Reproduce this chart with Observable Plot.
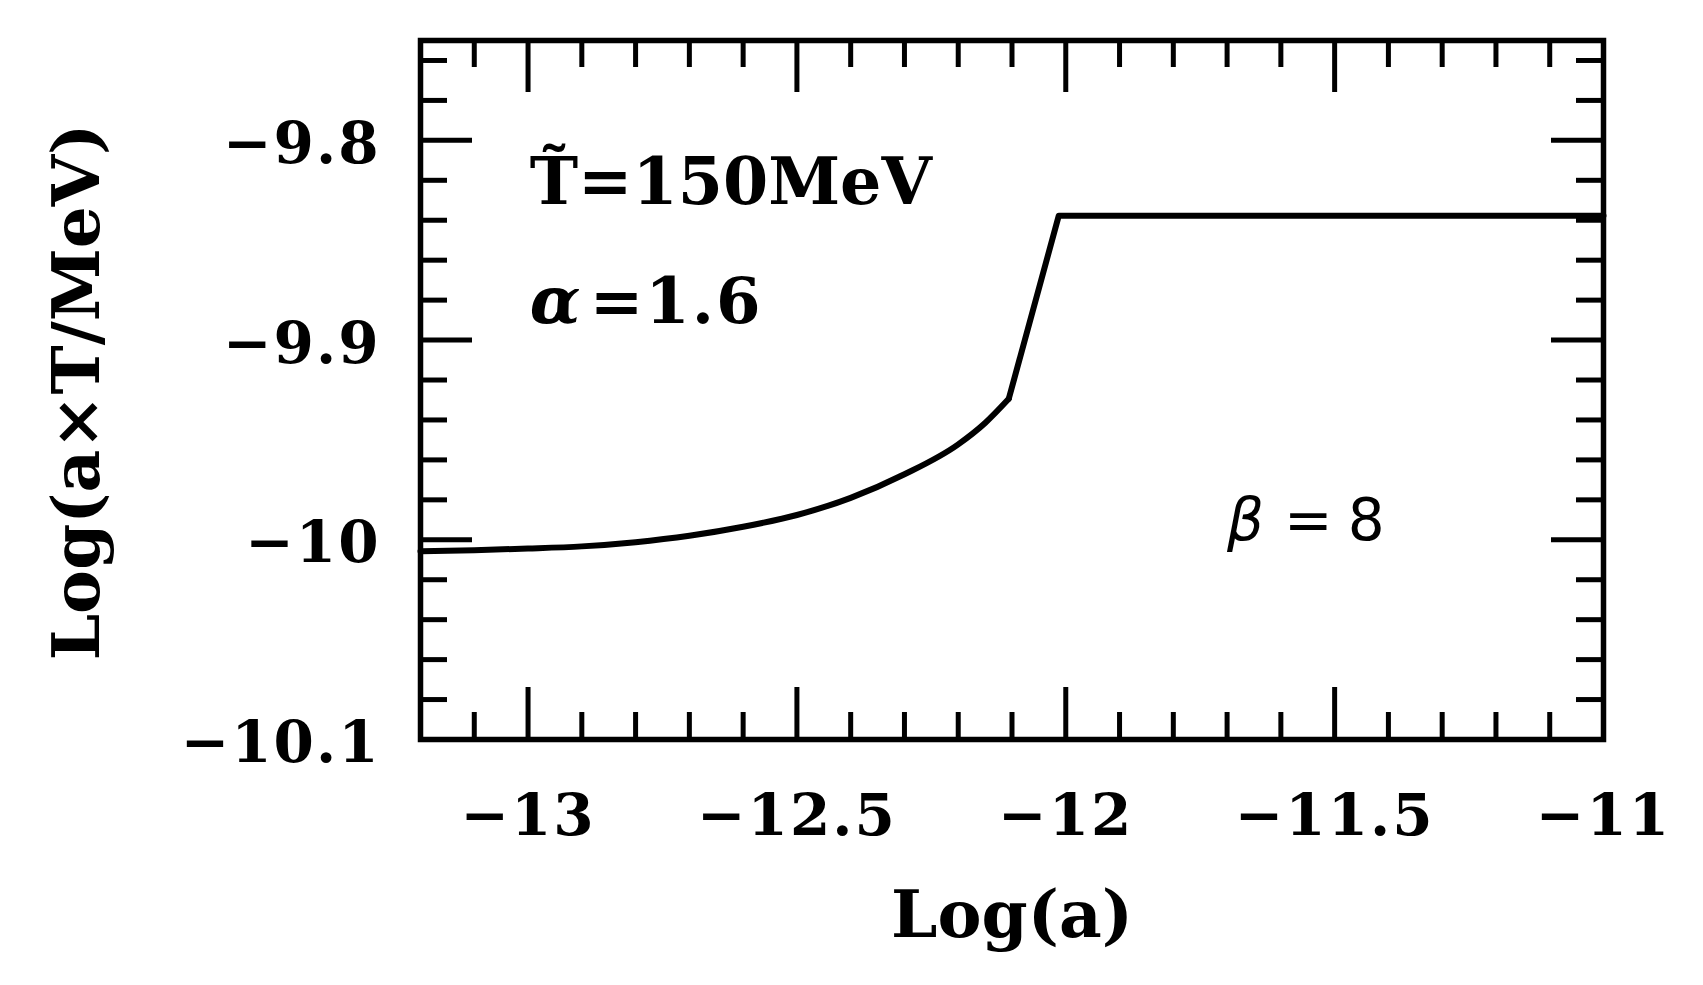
<!DOCTYPE html>
<html>
<head>
<meta charset="utf-8">
<script src="https://cdn.jsdelivr.net/npm/d3@7"></script>
<script src="https://cdn.jsdelivr.net/npm/@observablehq/plot@0.6"></script>
<style>
  html, body { margin: 0; padding: 0; background: white; }
</style>
</head>
<body>
<div id="chart"></div>
<script>
// ---- data ----
const logA = [-13.2, -13.1, -13.0, -12.9, -12.8, -12.7, -12.6, -12.5, -12.4, -12.3, -12.2, -12.15, -12.106, -12.013, -11.0];
const logAT = [-10.0057, -10.0052, -10.0044, -10.0033, -10.0012, -9.9980, -9.9935, -9.9876, -9.9790, -9.9672, -9.9522, -9.9415, -9.9294, -9.8377, -9.8377];
const kinkIndex = 12; // smooth part ends here, straight segments after

const xTickValues = [-13, -12.5, -12, -11.5, -11];
const xTickLabels = ["−13", "−12.5", "−12", "−11.5", "−11"];
const yTickValues = [-10.1, -10, -9.9, -9.8];
const yTickLabels = ["−10.1", "−10", "−9.9", "−9.8"];

const xMajorInner = [-13, -12.5, -12, -11.5];
const xMinor = [-13.1, -12.9, -12.8, -12.7, -12.6, -12.4, -12.3, -12.2, -12.1, -11.9, -11.8, -11.7, -11.6, -11.4, -11.3, -11.2, -11.1];
const yMajorInner = [-10, -9.9, -9.8];
const yMinor = [-10.08, -10.06, -10.04, -10.02, -9.98, -9.96, -9.94, -9.92, -9.88, -9.86, -9.84, -9.82, -9.78, -9.76];

const xLabel = "Log(a)";
const yLabel = "Log(a×T/MeV)";

const noteMain = [{x: -12.997, y: -9.8317, text: "T\u0303=150MeV"}];
const noteSymbols = [
  {x: -12.997, y: -9.8915, text: "α", font: "DejaVu Serif", size: 66, weight: "bold"},
  {x: -11.70, y: -10.0002, text: "β", font: "DejaVu Sans", size: 58, weight: "normal"}
];
const noteValues = [
  {x: -12.997, y: -9.8915, text: "=1.6", font: "DejaVu Serif", size: 64, weight: "bold", dx: 60, spacing: "2px"},
  {x: -11.70, y: -10.0002, text: "=8", font: "DejaVu Sans", size: 58, weight: "normal", dx: 57, spacing: "15px"}
];

// ---- layout ----
const W = 1703, H = 985;
const mL = 420, mR = 100, mT = 40, mB = 246;
const plotW = W - mL - mR, plotH = H - mT - mB;
const majorLen = 52, minorLen = 27, tickW = 5;

const pts = logA.map((x, i) => ({x, y: logAT[i]}));
const smoothPart = pts.slice(0, kinkIndex + 1);
const straightPart = pts.slice(kinkIndex);

const chart = Plot.plot({
  width: W,
  height: H,
  marginLeft: mL,
  marginRight: mR,
  marginTop: mT,
  marginBottom: mB,
  x: {domain: [-13.2, -11]},
  y: {domain: [-10.1, -9.75]},
  style: {background: "white", color: "black", fontFamily: "DejaVu Serif"},
  marks: [
    // inward ticks, bottom & top
    Plot.tickX(xMajorInner, {x: d => d, insetTop: plotH - majorLen, stroke: "black", strokeWidth: tickW}),
    Plot.tickX(xMajorInner, {x: d => d, insetBottom: plotH - majorLen, stroke: "black", strokeWidth: tickW}),
    Plot.tickX(xMinor, {x: d => d, insetTop: plotH - minorLen, stroke: "black", strokeWidth: tickW}),
    Plot.tickX(xMinor, {x: d => d, insetBottom: plotH - minorLen, stroke: "black", strokeWidth: tickW}),
    // inward ticks, left & right
    Plot.tickY(yMajorInner, {y: d => d, insetRight: plotW - majorLen, stroke: "black", strokeWidth: tickW}),
    Plot.tickY(yMajorInner, {y: d => d, insetLeft: plotW - majorLen, stroke: "black", strokeWidth: tickW}),
    Plot.tickY(yMinor, {y: d => d, insetRight: plotW - minorLen, stroke: "black", strokeWidth: tickW}),
    Plot.tickY(yMinor, {y: d => d, insetLeft: plotW - minorLen, stroke: "black", strokeWidth: tickW}),
    // curve
    Plot.line(smoothPart, {x: "x", y: "y", stroke: "black", strokeWidth: 6, curve: "monotone-x"}),
    Plot.line(straightPart, {x: "x", y: "y", stroke: "black", strokeWidth: 6, strokeLinejoin: "round"}),
    Plot.frame({stroke: "black", strokeWidth: 5.5}),
    // axes labels
    Plot.axisX({ticks: xTickValues, tickFormat: d => xTickLabels[xTickValues.indexOf(d)], tickSize: 0, tickPadding: 54, fontSize: 58, fontWeight: "bold", label: null}),
    Plot.axisY({ticks: yTickValues, tickFormat: d => yTickLabels[yTickValues.indexOf(d)], tickSize: 0, tickPadding: 40, fontSize: 58, fontWeight: "bold", label: null, dy: 4}),
    Plot.text([xLabel], {text: d => d, frameAnchor: "bottom", textAnchor: "middle", lineAnchor: "bottom", dy: 197, fontSize: 66, fontWeight: "bold"}),
    Plot.text([yLabel], {text: d => d, frameAnchor: "left", textAnchor: "middle", lineAnchor: "bottom", rotate: -90, dx: 98 - mL, dy: 2, fontSize: 66, fontWeight: "bold"}),
    // annotations
    Plot.text(noteMain, {x: "x", y: "y", text: "text", textAnchor: "start", lineAnchor: "bottom", fontSize: 65, fontWeight: "bold"}),
    ...noteSymbols.map(s => Plot.text([s], {x: "x", y: "y", text: "text", textAnchor: "start", lineAnchor: "bottom", fontSize: s.size, fontStyle: "italic", fontWeight: s.weight, fontFamily: s.font})),
    ...noteValues.map(v => Plot.text([v], {x: "x", y: "y", text: "text", textAnchor: "start", lineAnchor: "bottom", dx: v.dx, fontSize: v.size, fontWeight: v.weight, fontFamily: v.font}))
  ]
});
document.getElementById("chart").appendChild(chart);

// letter-spacing tweaks, as in the reference
d3.select(chart).selectAll('g[aria-label="x-axis tick label"] text, g[aria-label="y-axis tick label"] text')
  .style("letter-spacing", "2px");
d3.select(chart).selectAll("text").each(function() {
  const t = this.textContent;
  const v = noteValues.find(n => n.text === t);
  if (v) d3.select(this).style("letter-spacing", v.spacing);
});
</script>
</body>
</html>
